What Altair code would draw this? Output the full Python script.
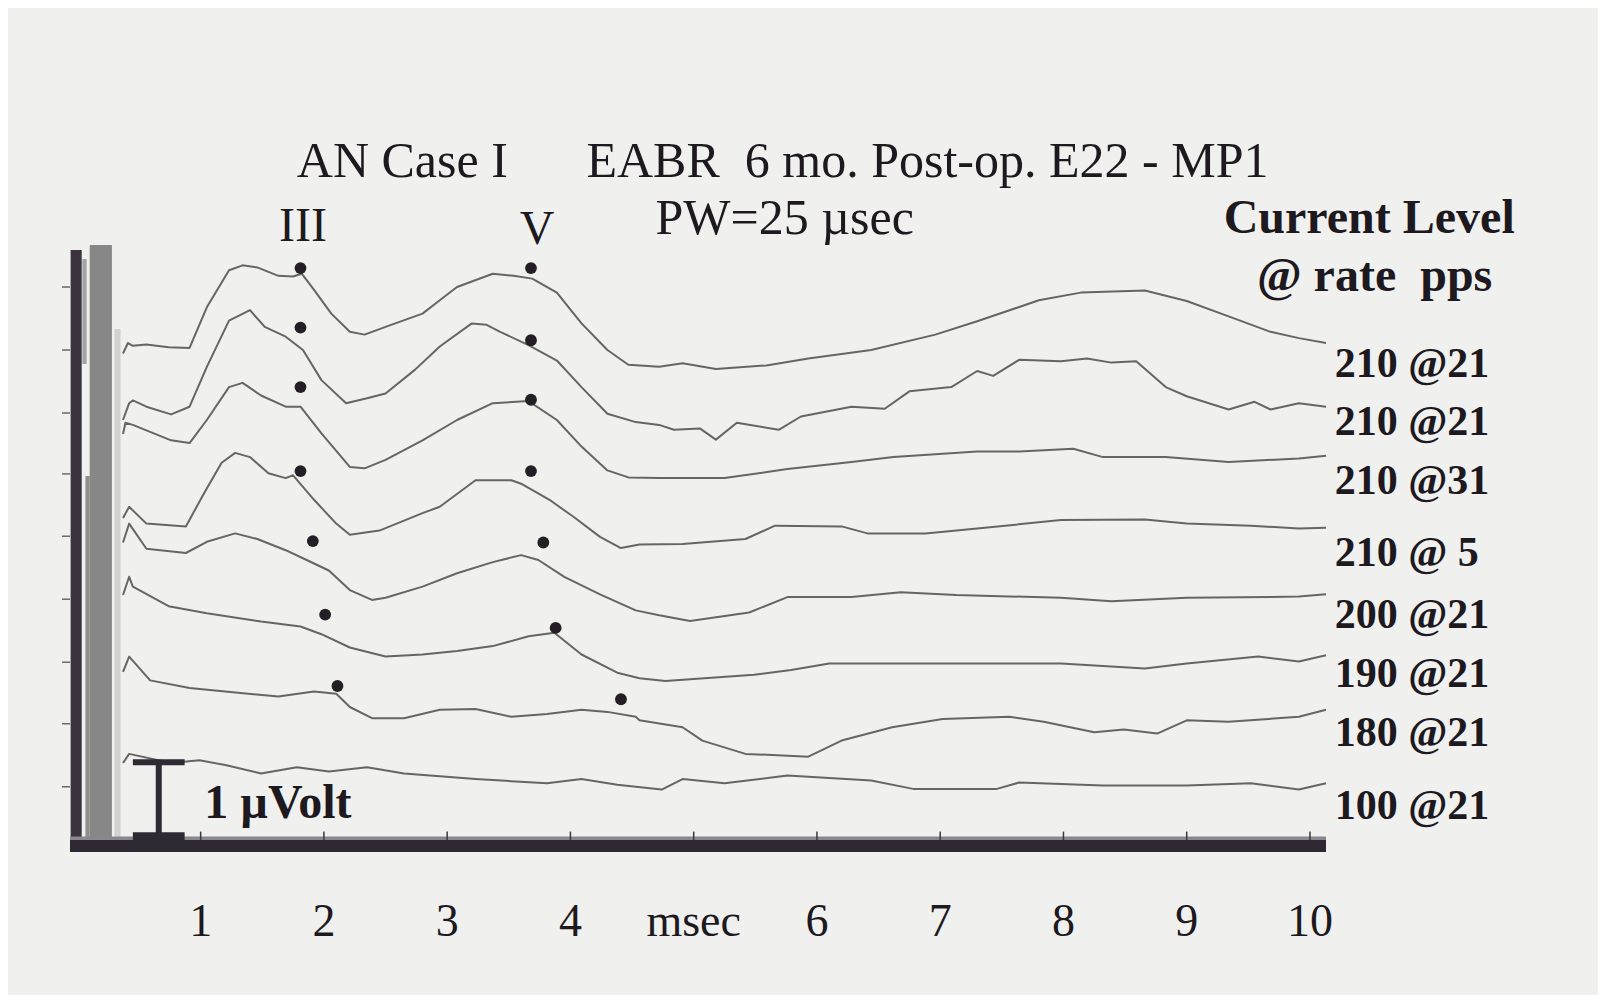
import altair as alt
import pandas as pd

# ---------------- values ----------------
# time in ms, amplitude in µV (stacked display: each trace includes its vertical offset)
T1_MS = [0.37, 0.41, 0.45, 0.56, 0.74, 0.91, 1.05, 1.23, 1.34, 1.46, 1.63, 1.75, 1.82, 1.92,
         2.06, 2.21, 2.33, 2.50, 2.80, 2.94, 3.08, 3.37, 3.54, 3.69, 3.89, 4.09, 4.30, 4.47,
         4.72, 4.91, 5.18, 5.59, 5.93, 6.44, 6.96, 7.30, 7.80, 8.14, 8.66, 9.00, 9.34, 9.68,
         9.91, 10.13]
T1_UV = [7.05, 7.20, 7.16, 7.18, 7.14, 7.13, 7.71, 8.24, 8.31, 8.28, 8.16, 8.15, 8.19, 7.96,
         7.62, 7.36, 7.32, 7.43, 7.62, 7.81, 8.00, 8.19, 8.16, 8.12, 7.92, 7.48, 7.10, 6.89,
         6.86, 6.91, 6.83, 6.88, 6.98, 7.10, 7.32, 7.51, 7.81, 7.92, 7.95, 7.80, 7.58, 7.36,
         7.27, 7.20]

T2_MS = [0.37, 0.42, 0.45, 0.56, 0.76, 0.91, 1.05, 1.23, 1.40, 1.52, 1.69, 1.83, 1.98, 2.18,
         2.35, 2.50, 2.74, 2.94, 3.20, 3.32, 3.43, 3.66, 3.89, 4.09, 4.30, 4.53, 4.72, 4.84,
         5.05, 5.18, 5.35, 5.69, 5.87, 6.28, 6.55, 6.75, 7.09, 7.30, 7.43, 7.64, 7.98, 8.19,
         8.39, 8.59, 8.83, 9.00, 9.34, 9.55, 9.68, 9.91, 10.13]
T2_UV = [6.10, 6.34, 6.38, 6.29, 6.18, 6.29, 6.86, 7.52, 7.67, 7.43, 7.29, 7.10, 6.67, 6.34,
         6.41, 6.48, 6.82, 7.15, 7.48, 7.46, 7.36, 7.17, 6.95, 6.57, 6.19, 6.07, 6.03, 5.96,
         5.98, 5.82, 6.06, 5.96, 6.15, 6.29, 6.26, 6.51, 6.57, 6.80, 6.73, 6.96, 6.94, 6.98,
         6.92, 6.94, 6.57, 6.44, 6.25, 6.36, 6.25, 6.34, 6.29]

T3_MS = [0.37, 0.39, 0.45, 0.76, 0.91, 1.05, 1.23, 1.34, 1.49, 1.69, 1.81, 1.98, 2.21, 2.33,
         2.50, 2.80, 3.08, 3.37, 3.66, 3.89, 4.09, 4.30, 4.47, 4.72, 5.25, 5.76, 6.28, 6.62,
         7.30, 7.64, 8.08, 8.32, 8.83, 9.34, 9.91, 10.13]
T3_UV = [5.90, 6.06, 6.03, 5.81, 5.77, 6.10, 6.57, 6.63, 6.45, 6.29, 6.29, 5.91, 5.43, 5.41,
         5.53, 5.81, 6.10, 6.34, 6.37, 6.10, 5.72, 5.38, 5.28, 5.27, 5.27, 5.40, 5.50, 5.57,
         5.65, 5.65, 5.69, 5.57, 5.57, 5.50, 5.55, 5.59]

T4_MS = [0.37, 0.42, 0.56, 0.88, 1.03, 1.17, 1.28, 1.40, 1.55, 1.69, 1.75, 1.92, 2.10, 2.21,
         2.45, 2.80, 2.94, 3.23, 3.52, 3.60, 3.83, 4.03, 4.24, 4.41, 4.56, 4.91, 5.42, 5.66,
         6.20, 6.41, 6.88, 7.30, 7.98, 8.66, 9.00, 9.52, 9.91, 10.13]
T4_UV = [4.70, 4.86, 4.62, 4.58, 5.06, 5.49, 5.63, 5.57, 5.34, 5.27, 5.31, 4.96, 4.62, 4.46,
         4.52, 4.77, 4.86, 5.24, 5.24, 5.19, 4.96, 4.71, 4.43, 4.27, 4.32, 4.33, 4.40, 4.59,
         4.58, 4.48, 4.48, 4.55, 4.67, 4.68, 4.62, 4.59, 4.55, 4.56]

T5_MS = [0.37, 0.42, 0.56, 0.88, 1.05, 1.28, 1.46, 1.69, 1.86, 2.04, 2.21, 2.39, 2.50, 2.80,
         3.08, 3.37, 3.60, 3.74, 3.95, 4.24, 4.53, 4.72, 4.97, 5.45, 5.76, 6.28, 6.68, 7.13,
         7.98, 8.39, 9.00, 9.68, 9.91, 10.13]
T5_UV = [4.35, 4.62, 4.26, 4.20, 4.36, 4.48, 4.40, 4.24, 4.10, 3.95, 3.67, 3.53, 3.56, 3.72,
         3.91, 4.07, 4.17, 4.10, 3.86, 3.61, 3.38, 3.31, 3.23, 3.35, 3.57, 3.57, 3.64, 3.60,
         3.56, 3.51, 3.56, 3.57, 3.58, 3.61]

T6_MS = [0.37, 0.42, 0.45, 0.74, 1.05, 1.49, 1.81, 1.98, 2.21, 2.50, 2.80, 3.08, 3.37, 3.66,
         3.87, 4.09, 4.38, 4.56, 4.77, 5.49, 5.79, 6.10, 6.96, 7.98, 8.66, 9.00, 9.58, 9.91,
         10.13]
T6_UV = [3.60, 3.86, 3.72, 3.44, 3.34, 3.22, 3.15, 3.04, 2.85, 2.72, 2.75, 2.80, 2.87, 3.01,
         3.06, 2.75, 2.49, 2.41, 2.37, 2.46, 2.53, 2.62, 2.62, 2.62, 2.55, 2.62, 2.72, 2.65,
         2.74]

T7_MS = [0.37, 0.42, 0.59, 0.91, 1.20, 1.63, 1.92, 2.10, 2.21, 2.39, 2.65, 2.94, 3.23, 3.52,
         3.81, 4.09, 4.30, 4.53, 4.56, 4.91, 5.07, 5.42, 5.93, 6.20, 6.61, 7.02, 7.56, 7.84,
         8.25, 8.49, 8.76, 9.00, 9.34, 9.91, 10.13]
T7_UV = [2.50, 2.72, 2.38, 2.27, 2.22, 2.15, 2.22, 2.19, 2.00, 1.84, 1.84, 1.96, 1.97, 1.86,
         1.90, 1.96, 1.93, 1.86, 1.81, 1.71, 1.52, 1.33, 1.29, 1.52, 1.71, 1.83, 1.86, 1.79,
         1.64, 1.68, 1.62, 1.81, 1.79, 1.86, 1.96]

T8_MS = [0.37, 0.42, 0.76, 0.99, 1.20, 1.49, 1.78, 2.04, 2.35, 2.65, 2.94, 3.23, 3.52, 3.81,
         4.09, 4.38, 4.74, 4.91, 5.25, 5.76, 6.44, 6.78, 7.46, 7.64, 8.32, 9.00, 9.52, 9.91,
         10.13]
T8_UV = [1.20, 1.33, 1.20, 1.24, 1.17, 1.05, 1.14, 1.08, 1.14, 1.05, 1.01, 0.97, 0.94, 0.91,
         0.97, 0.89, 0.82, 0.97, 0.91, 1.02, 0.95, 0.83, 0.83, 0.92, 0.88, 0.88, 0.91, 0.82,
         0.91]

# wave III and wave V markers (ms, µV)
III_MS = [1.81, 1.81, 1.81, 1.81, 1.91, 2.01, 2.11]
III_UV = [8.27, 7.42, 6.57, 5.37, 4.37, 3.32, 2.30]
V_MS = [3.68, 3.68, 3.68, 3.68, 3.78, 3.88, 4.41]
V_UV = [8.27, 7.24, 6.39, 5.37, 4.35, 3.13, 2.11]

# current level @ rate (pps) labels, and the level each sits at
LEVEL_LABELS = ["210 @21", "210 @21", "210 @31", "210 @ 5",
                "200 @21", "190 @21", "180 @21", "100 @21"]
LABEL_UV = [6.90, 6.07, 5.23, 4.20, 3.31, 2.47, 1.63, 0.59]

MS_TICKS = [1, 2, 3, 4, 5, 6, 7, 8, 9, 10]
MS_TICK_LABELS = ["1", "2", "3", "4", "msec", "6", "7", "8", "9", "10"]
LEFT_TICK_UV = [8.0, 7.1, 6.2, 5.33, 4.44, 3.54, 2.64, 1.76, 0.86]
SCALE_BAR_UV = 1.0

# stimulus-artifact blocks at the start of the sweep (ms, µV)
ART_T0 = [-0.055, 0.040, 0.065, 0.100, 0.300]
ART_T1 = [0.035, 0.075, 0.100, 0.280, 0.350]
ART_V0 = [0.0, 6.9, 0.0, 0.0, 0.0]
ART_V1 = [8.53, 8.40, 5.30, 8.60, 7.40]
ART_COL = ["#3b3340", "#a3a3a3", "#8e8e8e", "#878787", "#d2d2d2"]

# ---------------- styling ----------------
FONT = "Liberation Serif"
INK = "#1d191f"
TRACE_GREY = "#656565"
PAPER = "#F0F1EE"
BAR = "#2e2933"

XS = alt.Scale(domain=[-0.06, 10.13], nice=False, zero=False)
YS = alt.Scale(domain=[-0.086, 8.586], nice=False, zero=False)


def X(f):
    return alt.X(f"{f}:Q", scale=XS, axis=None)


def Y(f):
    return alt.Y(f"{f}:Q", scale=YS, axis=None)


traces = [(T1_MS, T1_UV), (T2_MS, T2_UV), (T3_MS, T3_UV), (T4_MS, T4_UV),
          (T5_MS, T5_UV), (T6_MS, T6_UV), (T7_MS, T7_UV), (T8_MS, T8_UV)]
rows = []
for i, (ts, vs) in enumerate(traces):
    for t, v in zip(ts, vs):
        rows.append({"trace": i, "t": t, "uv": v})
df_tr = pd.DataFrame(rows)

df_dots = pd.DataFrame({"t": III_MS + V_MS, "uv": III_UV + V_UV})

df_art = pd.DataFrame({"t0": ART_T0, "t1": ART_T1, "v0": ART_V0, "v1": ART_V1, "col": ART_COL})

artifact = alt.Chart(df_art).mark_rect().encode(
    x=X("t0"), x2="t1", y=Y("v0"), y2="v1", color=alt.Color("col:N", scale=None))

df_lt = pd.DataFrame({"uv": LEFT_TICK_UV, "a": [-0.125] * len(LEFT_TICK_UV),
                      "b": [-0.06] * len(LEFT_TICK_UV)})
left_ticks = alt.Chart(df_lt).mark_rule(color="#555", strokeWidth=1.3).encode(
    x=X("a"), x2="b", y=Y("uv"))

lines = alt.Chart(df_tr).mark_line(color=TRACE_GREY, strokeWidth=2.0, strokeJoin="round").encode(
    x=X("t"), y=Y("uv"), detail="trace:N")

dots = alt.Chart(df_dots).mark_circle(color="#241f24", opacity=1, size=140).encode(
    x=X("t"), y=Y("uv"))

# bottom time-axis bar
df_bar = pd.DataFrame({"t0": [-0.06], "t1": [10.13], "v0": [-0.07], "v1": [0.10]})
axis_bar = alt.Chart(df_bar).mark_rect(color=BAR).encode(x=X("t0"), x2="t1", y=Y("v0"), y2="v1")
df_comb = pd.DataFrame({"t0": [-0.06], "t1": [10.13], "v0": [0.10], "v1": [0.15]})
axis_comb = alt.Chart(df_comb).mark_rect(color="#8b8690").encode(
    x=X("t0"), x2="t1", y=Y("v0"), y2="v1")
df_ms = pd.DataFrame({"t": MS_TICKS, "v0": [0.10] * 10, "v1": [0.22] * 10})
ms_ticks = alt.Chart(df_ms).mark_rule(color="#3a3a3a", strokeWidth=1.5).encode(
    x=X("t"), y=Y("v0"), y2="v1")

# 1 µV calibration bar
sb_base = 0.21
df_stem = pd.DataFrame({"t": [0.66], "v0": [0.10], "v1": [sb_base + SCALE_BAR_UV]})
stem = alt.Chart(df_stem).mark_rule(color=BAR, strokeWidth=6).encode(x=X("t"), y=Y("v0"), y2="v1")
df_top = pd.DataFrame({"t0": [0.45], "t1": [0.87], "v": [sb_base + SCALE_BAR_UV]})
sb_top = alt.Chart(df_top).mark_rule(color=BAR, strokeWidth=6).encode(x=X("t0"), x2="t1", y=Y("v"))
df_foot = pd.DataFrame({"t0": [0.45], "t1": [0.87], "v0": [-0.07], "v1": [sb_base]})
sb_foot = alt.Chart(df_foot).mark_rect(color=BAR).encode(x=X("t0"), x2="t1", y=Y("v0"), y2="v1")


def texts(df, size, weight, align):
    return alt.Chart(df).mark_text(font=FONT, fontSize=size, fontWeight=weight, align=align,
                                   baseline="middle", color=INK).encode(
        x=X("t"), y=Y("uv"), text="txt:N")


NB = "\u00a0"
df_title = pd.DataFrame({
    "txt": ["AN Case I", f"EABR{NB}{NB}6 mo. Post-op. E22 - MP1", "PW=25 µsec"],
    "t": [1.78, 4.13, 4.69], "uv": [9.79, 9.79, 8.97]})
df_waves = pd.DataFrame({"txt": ["III", "V"], "t": [1.83, 3.73], "uv": [8.86, 8.81]})
df_bold = pd.DataFrame({
    "txt": ["Current Level", f"@ rate{NB}{NB}pps", "1 µVolt"],
    "t": [9.30, 9.57, 1.03], "uv": [8.97, 8.14, 0.61]})
df_lab = pd.DataFrame({"txt": [s.replace(" ", NB) for s in LEVEL_LABELS],
                       "t": [10.20] * len(LEVEL_LABELS), "uv": LABEL_UV})
df_tl = pd.DataFrame({"txt": MS_TICK_LABELS, "t": MS_TICKS, "uv": [-1.07] * 10})

layers = [
    artifact, left_ticks, lines, dots, axis_comb, axis_bar, ms_ticks, stem, sb_top, sb_foot,
    texts(df_title, 50, "normal", "left"),
    texts(df_waves, 48, "normal", "center"),
    texts(df_bold, 48, "bold", "left"),
    texts(df_lab, 42, "bold", "left"),
    texts(df_tl, 46, "normal", "center"),
]

chart = alt.layer(*layers).properties(
    width=1256, height=607,
    padding={"left": 62, "top": 238, "right": 272, "bottom": 142},
    autosize=alt.AutoSizeParams(type="none"),
).configure(background=PAPER).configure_view(stroke=None)

chart.save("out.html", embed_options={"renderer": "svg", "actions": False})
